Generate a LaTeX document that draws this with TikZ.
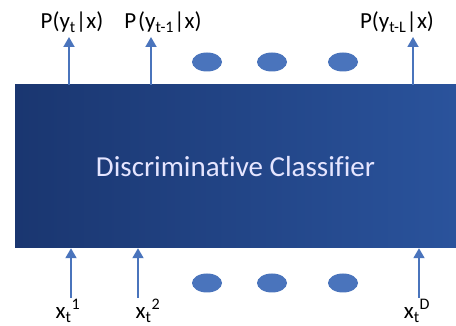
\documentclass[tikz,border=0pt]{standalone}
\usepackage{fontspec}
\setmainfont{Carlito}[Ligatures=NoCommon]
\usepackage{xcolor}
\usetikzlibrary{positioning,arrows.meta,shapes.geometric}

\definecolor{clfdark}{HTML}{1A3670}
\definecolor{clflight}{HTML}{2A539C}
\definecolor{flowblue}{HTML}{4A74BC}

\begin{document}
\begin{tikzpicture}[
    x=1pt, y=1pt,
    % --- the big classifier block ---
    clfbox/.style={rectangle, left color=clfdark, right color=clflight,
                   minimum width=441pt, minimum height=163pt, inner sep=0pt,
                   text=white!90!blue, font=\fontsize{29}{33}\selectfont},
    % --- output / input labels ---
    lbl/.style={inner sep=0pt, font=\fontsize{23}{26}\selectfont, text=black},
    % --- ellipsis dots ---
    dot/.style={ellipse, fill=flowblue, minimum width=30pt, minimum height=19pt,
                inner sep=0pt},
    flow/.style={-{Triangle[length=10pt,width=11pt]}, flowblue, line width=1.8pt},
  ]
  \useasboundingbox (0,0) rectangle (456,-326);

  % ---- CLASSIFIER --------------------------------------------------------
  \node[clfbox] (clf) at (235.5,-166.5) {Discriminative Classifier};

  % ---- OUTPUTS -----------------------------------------------------------
  \node[lbl] (p1) at (72,-22) {P(y\textsubscript{t}|x)};
  \node[lbl] (p2) at (163,-22) {P\kern2pt(y\textsubscript{t-1}|x)};
  \node[lbl] (pL) at (397,-22) {P(y\textsubscript{t-L}|x)};
  \coordinate (o1) at (69,-37);
  \coordinate (o2) at (151,-37);
  \coordinate (oL) at (413,-37);
  \draw[flow] (clf.north -| o1) -- (o1);
  \draw[flow] (clf.north -| o2) -- (o2);
  \draw[flow] (clf.north -| oL) -- (oL);

  \node[dot] (td1) at (207,-62) {};
  \node[dot] (td2) at (272,-62) {};
  \node[dot] (td3) at (343,-62) {};

  % ---- INPUTS ------------------------------------------------------------
  \node[lbl] (x1) at (68,-311) {x\textsubscript{t}\textsuperscript{1}};
  \node[lbl] (x2) at (148,-311) {x\textsubscript{t}\textsuperscript{2}};
  \node[lbl] (xD) at (417,-311) {x\textsubscript{t}\textsuperscript{D}};
  \coordinate (i1) at (71,-298);
  \coordinate (i2) at (138,-298);
  \coordinate (iD) at (419,-298);
  \draw[flow] (i1) -- (i1 |- clf.south);
  \draw[flow] (i2) -- (i2 |- clf.south);
  \draw[flow] (iD) -- (iD |- clf.south);

  \node[dot] (bd1) at (207,-283) {};
  \node[dot] (bd2) at (272,-283) {};
  \node[dot] (bd3) at (343,-283) {};

\end{tikzpicture}
\end{document}
